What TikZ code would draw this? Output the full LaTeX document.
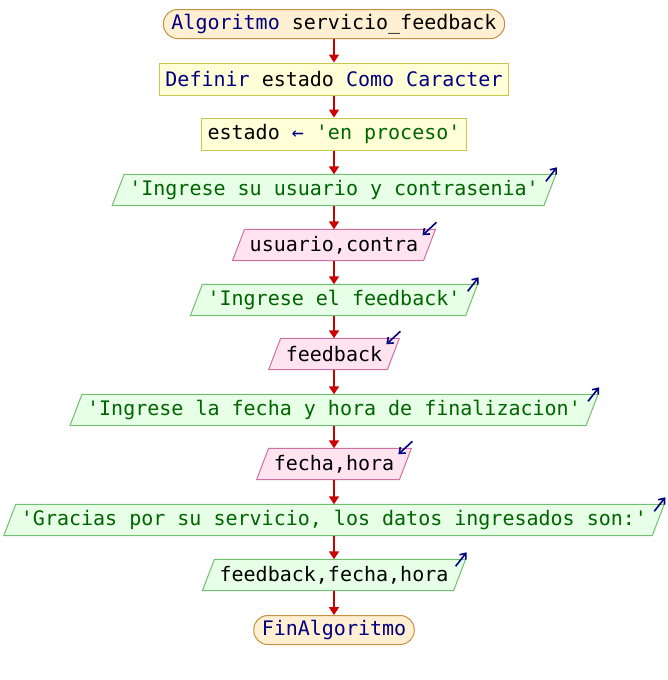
\documentclass[tikz,border=0pt]{standalone}
\usepackage{fontspec}
\usetikzlibrary{arrows.meta,calc,backgrounds}
\newfontfamily\psfont{DejaVu Sans Mono}

\definecolor{kwblue}{HTML}{000080}
\definecolor{strgreen}{HTML}{006400}
\definecolor{termfill}{HTML}{FFF0D4}
\definecolor{termline}{HTML}{C89040}
\definecolor{procfill}{HTML}{FFFFD8}
\definecolor{procline}{HTML}{C8C850}
\definecolor{outfill}{HTML}{E6FFE6}
\definecolor{outline}{HTML}{70C070}
\definecolor{infill}{HTML}{FFE4F0}
\definecolor{inline}{HTML}{D070A0}
\definecolor{flowred}{HTML}{CC0000}

\newcommand{\kw}[1]{\textcolor{kwblue}{#1}}
\newcommand{\str}[1]{\textcolor{strgreen}{#1}}

\tikzset{
  terminal/.style={draw=termline, fill=termfill, line width=1pt, rectangle,
    rounded corners=14pt, minimum height=29pt, inner xsep=8pt},
  process/.style={draw=procline, fill=procfill, line width=1pt, rectangle,
    minimum height=32pt, inner xsep=6pt},
  iobox/.style={rectangle, minimum height=31pt, inner xsep=11pt},
  outshape/.style={draw=outline, fill=outfill, line width=1pt},
  inshape/.style={draw=inline, fill=infill, line width=1pt},
  flow/.style={draw=flowred, line width=1.6pt, -{Triangle[length=8pt,width=10pt]}},
  icon/.style={draw=kwblue, line width=1.6pt, -{Straight Barb[length=5pt,width=8pt]}}
}

\begin{document}
\begin{tikzpicture}[x=1pt, y=-1pt, font=\psfont\fontsize{20}{24}\selectfont]
  \useasboundingbox (0,0) rectangle (668,680);

  % Boxes
  \node[terminal] (start) at (334, 24) {\kw{Algoritmo} servicio\_feedback};
  \node[process] (defvar) at (334, 79) {\kw{Definir} estado \kw{Como Caracter}};
  \node[process] (assign) at (334, 134) {estado \kw{←} \str{'en proceso'}};
  \node[iobox] (msg1) at (334, 190) {\str{'Ingrese su usuario y contrasenia'}};
  \node[iobox] (read1) at (334, 245) {usuario,contra};
  \node[iobox] (msg2) at (334, 300) {\str{'Ingrese el feedback'}};
  \node[iobox] (read2) at (334, 354) {feedback};
  \node[iobox] (msg3) at (334, 410) {\str{'Ingrese la fecha y hora de finalizacion'}};
  \node[iobox] (read3) at (334, 464) {fecha,hora};
  \node[iobox] (msg4) at (334, 520) {\str{'Gracias por su servicio, los datos ingresados son:'}};
  \node[iobox] (write4) at (334, 575) {feedback,fecha,hora};
  \node[terminal] (finish) at (334, 630) {\kw{FinAlgoritmo}};

  % Parallelograms behind the texts
  \begin{scope}[on background layer]
    \foreach \n in {msg1, msg2, msg3, msg4, write4}
      \draw[outshape] ($(\n.south west)+(-6,0)$) -- ($(\n.north west)+(6,0)$)
        -- ($(\n.north east)+(6,0)$) -- ($(\n.south east)+(-6,0)$) -- cycle;
    \foreach \n in {read1, read2, read3}
      \draw[inshape] ($(\n.south west)+(-6,0)$) -- ($(\n.north west)+(6,0)$)
        -- ($(\n.north east)+(6,0)$) -- ($(\n.south east)+(-6,0)$) -- cycle;
  \end{scope}

  % Connectors
  \foreach \a/\b in {start/defvar, defvar/assign, assign/msg1, msg1/read1,
      read1/msg2, msg2/read2, read2/msg3, msg3/read3, read3/msg4,
      msg4/write4, write4/finish}
    \draw[flow] (\a) -- (\b);

  % Output marks
  \foreach \n in {msg1, msg2, msg3, msg4, write4}
    \draw[icon] ($(\n.north east)+(-4,7)$) -- ($(\n.north east)+(7,-7)$);

  % Input marks
  \foreach \n in {read1, read2, read3}
    \draw[icon] ($(\n.north east)+(7,-7)$) -- ($(\n.north east)+(-7,6)$);
\end{tikzpicture}
\end{document}
